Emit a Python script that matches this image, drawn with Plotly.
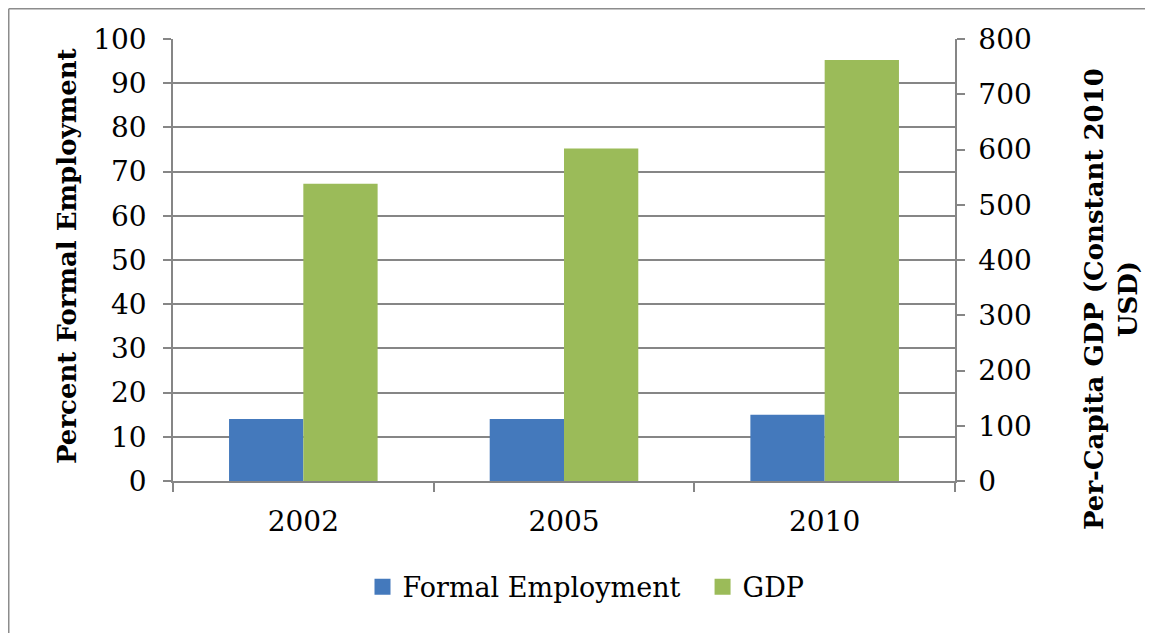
import plotly.graph_objects as go

years = ["2002", "2005", "2010"]
formal_employment = [14, 14, 15]
gdp = [538, 602, 762]

left_ticks = [0, 10, 20, 30, 40, 50, 60, 70, 80, 90, 100]
right_ticks = [0, 100, 200, 300, 400, 500, 600, 700, 800]

FONT = "DejaVu Serif"
GRID = "#868686"
BLUE = "#4479BC"
GREEN = "#9BBB59"

W, H = 1145, 625
L, T = 165, 31
PW, PH = 782, 442

# page px -> paper coords (the figure sits at an 8px page offset)
def px_x(x):
    return (x - 8 - L) / PW

def px_y(y):
    return (T + PH - (y - 8)) / PH

fig = go.Figure()
fig.add_trace(go.Bar(x=years, y=formal_employment, name="Formal Employment",
                     marker=dict(color=BLUE, line=dict(width=0)),
                     offsetgroup="1", yaxis="y", showlegend=False))
fig.add_trace(go.Bar(x=years, y=gdp, name="GDP",
                     marker=dict(color=GREEN, line=dict(width=0)),
                     offsetgroup="2", yaxis="y2", showlegend=False))
# legend entries (square swatches)
fig.add_trace(go.Scatter(x=[None], y=[None], mode="markers", name="Formal Employment\u00a0\u00a0",
                         marker=dict(symbol="square", size=16, color=BLUE), yaxis="y"))
fig.add_trace(go.Scatter(x=[None], y=[None], mode="markers", name="GDP",
                         marker=dict(symbol="square", size=16, color=GREEN), yaxis="y"))

fig.update_layout(
    width=W, height=H,
    margin=dict(l=L, r=W - L - PW, t=T, b=H - T - PH),
    paper_bgcolor="white", plot_bgcolor="white",
    barmode="group", bargap=0.43, bargroupgap=0,
    font=dict(family=FONT, size=28, color="black"),
    showlegend=True,
    legend=dict(orientation="h", x=px_x(586), xanchor="center", y=-0.24, yanchor="middle",
                font=dict(family=FONT, size=27), itemwidth=30, traceorder="normal",
                itemsizing="trace"),
    xaxis=dict(type="category", categoryorder="array", categoryarray=years,
               showline=True, linecolor=GRID, linewidth=1.5,
               ticks="outside", tickson="boundaries", ticklen=9, tickcolor=GRID,
               tickwidth=1.5, showgrid=False, ticklabelstandoff=15),
    yaxis=dict(range=[0, 100], tickvals=left_ticks, showgrid=True, gridcolor=GRID,
               gridwidth=1.5, showline=True, linecolor=GRID, linewidth=1.5,
               ticks="outside", ticklen=8, tickcolor=GRID, tickwidth=1.5,
               zeroline=False, ticklabelstandoff=11),
    yaxis2=dict(range=[0, 800], tickvals=right_ticks, overlaying="y", side="right",
                showgrid=False, showline=True, linecolor=GRID, linewidth=1.5,
                ticks="outside", ticklen=8, tickcolor=GRID, tickwidth=1.5,
                zeroline=False, ticklabelstandoff=8),
)

fig.add_annotation(text="<b>Percent Formal Employment</b>", x=px_x(67), y=px_y(256),
                   xref="paper", yref="paper", showarrow=False, textangle=-90,
                   xanchor="center", yanchor="middle", font=dict(family=FONT, size=26))
fig.add_annotation(text="<b>Per-Capita GDP (Constant 2010<br>USD)</b>", x=px_x(1111), y=px_y(299),
                   xref="paper", yref="paper", showarrow=False, textangle=-90,
                   xanchor="center", yanchor="middle", font=dict(family=FONT, size=26))

# outer chart border: left and top edges
fig.add_shape(type="line", xref="paper", yref="paper",
              x0=px_x(8.75), x1=px_x(8.75), y0=px_y(633), y1=px_y(8.75),
              line=dict(color="#8C8C8C", width=1.5))
fig.add_shape(type="line", xref="paper", yref="paper",
              x0=px_x(8.75), x1=px_x(1153), y0=px_y(8.75), y1=px_y(8.75),
              line=dict(color="#8C8C8C", width=1.5))

fig.write_html("out.html")
